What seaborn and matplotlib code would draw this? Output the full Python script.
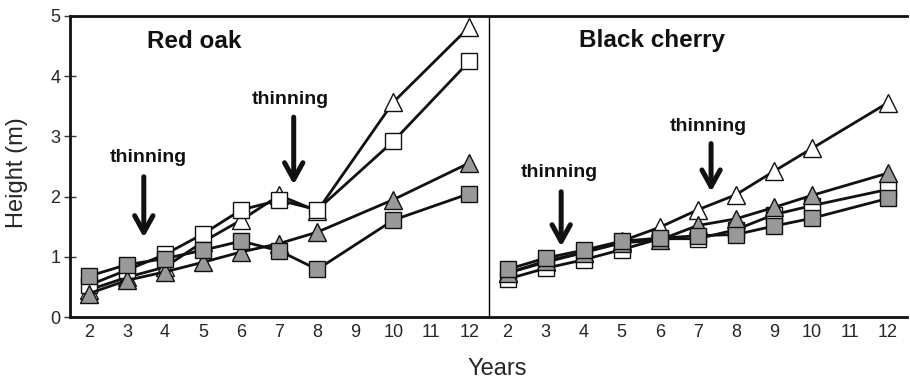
import matplotlib
matplotlib.use("Agg")
import matplotlib.pyplot as plt
import seaborn as sns
import pandas as pd
import numpy as np

# ---- data ----
oak_years = [2, 3, 4, 5, 6, 7, 8, 10, 12]
oak_open_tri = [0.45, 0.66, 0.83, 1.25, 1.61, 2.02, 1.76, 3.57, 4.82]
oak_open_sq = [0.53, 0.78, 1.04, 1.38, 1.78, 1.94, 1.78, 2.92, 4.25]
oak_gray_tri = [0.39, 0.61, 0.75, 0.91, 1.08, 1.22, 1.41, 1.95, 2.56]
oak_gray_sq = [0.68, 0.87, 0.97, 1.11, 1.26, 1.10, 0.79, 1.61, 2.05]

cherry_years = [2, 3, 4, 5, 6, 7, 8, 9, 10, 12]
cherry_open_tri = [0.73, 0.91, 1.07, 1.26, 1.49, 1.78, 2.03, 2.42, 2.80, 3.56]
cherry_open_sq = [0.63, 0.81, 0.95, 1.12, 1.30, 1.30, 1.45, 1.70, 1.85, 2.12]
cherry_gray_tri = [0.73, 0.93, 1.07, 1.23, 1.28, 1.52, 1.63, 1.82, 2.02, 2.39]
cherry_gray_sq = [0.79, 0.98, 1.11, 1.26, 1.31, 1.35, 1.37, 1.51, 1.64, 1.97]

tick_years = [2, 3, 4, 5, 6, 7, 8, 9, 10, 11, 12]
panel_titles = ["Red oak", "Black cherry"]
thin_label = "thinning"

sns.set_theme(style="white")
plt.rcParams['font.family'] = ['Liberation Sans', 'DejaVu Sans']

fig = plt.figure(figsize=(9.1, 3.82), dpi=100)
ax = fig.add_axes([70/910, 1-317/382, 837/910, 301/382])

GRAY = "#999999"
INK = "#111111"
styles = [("^", "white"), ("s", "white"), ("^", GRAY), ("s", GRAY)]
n = len(tick_years)

def pos(years, panel):
    return [panel * n + (y - tick_years[0]) for y in years]

oak_series = [oak_open_tri, oak_open_sq, oak_gray_tri, oak_gray_sq]
cherry_series = [cherry_open_tri, cherry_open_sq, cherry_gray_tri, cherry_gray_sq]
for panel, (years, series) in enumerate([(oak_years, oak_series), (cherry_years, cherry_series)]):
    for vals, (mk, fc) in zip(series, styles):
        df = pd.DataFrame({"x": pos(years, panel), "y": vals})
        sns.lineplot(data=df, x="x", y="y", ax=ax, color=INK, lw=2.0,
                     marker=mk, markersize=11.5 if mk == "s" else 13.5,
                     markerfacecolor=fc, markeredgecolor=INK,
                     markeredgewidth=1.0, legend=False)

ax.axvline(n - 0.5, color="black", lw=1.0)

ax.set_xlim(-0.5, 2 * n - 0.5)
ax.set_ylim(0, 5)
ax.set_xticks(range(2 * n))
ax.set_xticklabels([str(t) for t in tick_years] * 2, fontsize=13)
ax.set_yticks(range(6))
ax.set_yticklabels([str(v) for v in range(6)], fontsize=13)
ax.tick_params(axis="x", length=0, pad=5)
ax.tick_params(axis="y", direction="inout", length=8, width=1.0, pad=3, left=True, color="#333333")
ax.set_xlabel("Years", fontsize=17)
ax.set_ylabel("Height (m)", fontsize=17)
ax.xaxis.set_label_coords(0.51, -0.135)
ax.yaxis.set_label_coords(-0.05, 0.48)

for s in ["left", "top", "bottom"]:
    ax.spines[s].set_visible(True)
    ax.spines[s].set_color(INK)
    ax.spines[s].set_linewidth(2.0)
ax.spines["right"].set_visible(False)

# panel titles
ax.text(2.76, 4.58, panel_titles[0], fontsize=17.5, fontweight="bold", ha="center", va="center", color=INK)
ax.text(14.8, 4.6, panel_titles[1], fontsize=17.5, fontweight="bold", ha="center", va="center", color=INK)

# thinning annotations (x in category positions): text x, text y, arrow x, arrow top, arrow tip
arrows = [(1.57, 2.65, 1.44, 2.33, 1.32), (5.3, 3.62, 5.38, 3.32, 2.2),
          (12.35, 2.4, 12.41, 2.08, 1.17), (16.29, 3.17, 16.35, 2.88, 2.08)]
for xt, yt, xa, ytop, ytip in arrows:
    ax.text(xt, yt, thin_label, fontsize=14, fontweight="bold", ha="center", va="center", color=INK)
    ax.annotate("", xy=(xa, ytip), xytext=(xa, ytop),
                arrowprops=dict(arrowstyle="->,head_length=1.0,head_width=0.55", lw=3.6, color=INK,
                                shrinkA=0, shrinkB=0))

fig.savefig("out.png", dpi=100)
